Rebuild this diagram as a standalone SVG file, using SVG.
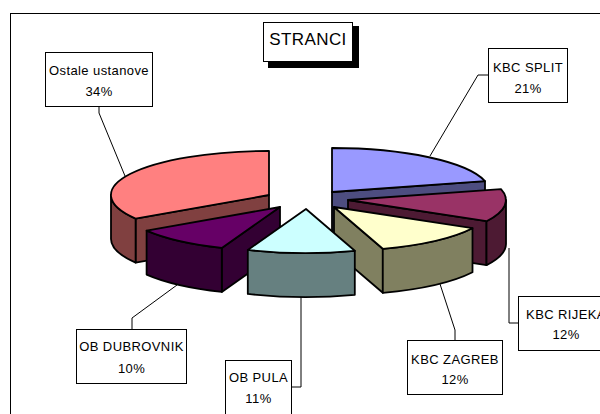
<svg xmlns="http://www.w3.org/2000/svg" width="600" height="414" viewBox="0 0 600 414">
<style>
  .pie path { stroke: #000; stroke-width: 1.8; stroke-linejoin: round; }
  .lbl rect { fill: #fff; stroke: #000; stroke-width: 1; }
  .lbl text { font-family: "Liberation Sans", Arial, sans-serif; font-size: 13px; letter-spacing: 0.4px; text-anchor: middle; fill: #000; }
  .lead { fill: none; stroke: #000; stroke-width: 1; }
</style>
<rect width="600" height="414" fill="#fff"/>
<rect x="10.5" y="13.5" width="600" height="420" fill="none" stroke="#000" stroke-width="1"/>

<g id="title">
  <rect x="268" y="26" width="91" height="42" fill="#000"/>
  <rect x="263.5" y="22.5" width="89" height="39" fill="#fff" stroke="#000" stroke-width="1"/>
  <text x="308" y="45" font-family="Liberation Sans, Arial, sans-serif" font-size="17" letter-spacing="0.4" text-anchor="middle">STRANCI</text>
</g>

<g class="pie" id="pie">
  <g id="slice-ostale">
    <path d="M269,195 L135.6,218.6 L135.6,262.6 L269,239 Z" fill="#804040"/>
    <path d="M135.6,218.6 A158,44 0 0 1 111,195 L111,239 A158,44 0 0 0 135.6,262.6 Z" fill="#804040"/>
    <path d="M269,195 L135.6,218.6 A158,44 0 0 1 269,151 Z" fill="#FF8080"/>
  </g>
  <g id="slice-split">
    <path d="M332,192 L485,181.1 L485,225.1 L332,236 Z" fill="#4D4D80"/>
    <path d="M332,192 L332,148 A158,44 0 0 1 485,181.1 Z" fill="#9999FF"/>
  </g>
  <g id="slice-rijeka">
    <path d="M348,200 L486.5,221.2 L486.5,265.2 L348,244 Z" fill="#4D1A33"/>
    <path d="M506,200 A158,44 0 0 1 486.5,221.2 L486.5,265.2 A158,44 0 0 0 506,244 Z" fill="#4D1A33"/>
    <path d="M348,200 L501,189.1 A158,44 0 0 1 486.5,221.2 Z" fill="#993366"/>
  </g>
  <g id="slice-dubrovnik">
    <path d="M280,207 L221.8,247.9 L221.8,291.9 L280,251 Z" fill="#330033"/>
    <path d="M221.8,247.9 A158,44 0 0 1 146.6,230.6 L146.6,274.6 A158,44 0 0 0 221.8,291.9 Z" fill="#330033"/>
    <path d="M280,207 L221.8,247.9 A158,44 0 0 1 146.6,230.6 Z" fill="#660066"/>
  </g>
  <g id="slice-zagreb">
    <path d="M334,207 L382.8,248.8 L382.8,292.8 L334,251 Z" fill="#808060"/>
    <path d="M472.5,228.2 A158,44 0 0 1 382.8,248.8 L382.8,292.8 A158,44 0 0 0 472.5,272.2 Z" fill="#808060"/>
    <path d="M334,207 L472.5,228.2 A158,44 0 0 1 382.8,248.8 Z" fill="#FFFFCC"/>
  </g>
  <g id="slice-pula">
    <path d="M354.8,250.8 A158,44 0 0 1 247.8,249.9 L247.8,293.9 A158,44 0 0 0 354.8,294.8 Z" fill="#668080"/>
    <path d="M306,209 L354.8,250.8 A158,44 0 0 1 247.8,249.9 Z" fill="#CCFFFF"/>
  </g>
</g>

<g id="connectors">
  <polyline class="lead" points="99,106 99,113 125,176"/>
  <polyline class="lead" points="488,75 478,75 430,156"/>
  <polyline class="lead" points="132,329 132,318 177,285"/>
  <polyline class="lead" points="291,387 301,387 301,297"/>
  <polyline class="lead" points="455,340 455,330 440,284"/>
  <polyline class="lead" points="518,323 509,323 509,248"/>
</g>

<g id="label-ostale" class="lbl">
  <rect x="45.5" y="52.5" width="107" height="54"/>
  <text x="99" y="75">Ostale ustanove</text>
  <text x="99" y="96">34%</text>
</g>
<g id="label-split" class="lbl">
  <rect x="488.5" y="48.5" width="79" height="54"/>
  <text x="528" y="72">KBC SPLIT</text>
  <text x="528" y="93">21%</text>
</g>
<g id="label-dubrovnik" class="lbl">
  <rect x="76.5" y="329.5" width="110" height="54"/>
  <text x="131.5" y="351">OB DUBROVNIK</text>
  <text x="131.5" y="373">10%</text>
</g>
<g id="label-pula" class="lbl">
  <rect x="225.5" y="360.5" width="66" height="54"/>
  <text x="258.5" y="382">OB PULA</text>
  <text x="258.5" y="403">11%</text>
</g>
<g id="label-zagreb" class="lbl">
  <rect x="407.5" y="340.5" width="95" height="54"/>
  <text x="455" y="364">KBC ZAGREB</text>
  <text x="455" y="384">12%</text>
</g>
<g id="label-rijeka" class="lbl">
  <rect x="518.5" y="296.5" width="95" height="54"/>
  <text x="566" y="319">KBC RIJEKA</text>
  <text x="566" y="339">12%</text>
</g>
</svg>
